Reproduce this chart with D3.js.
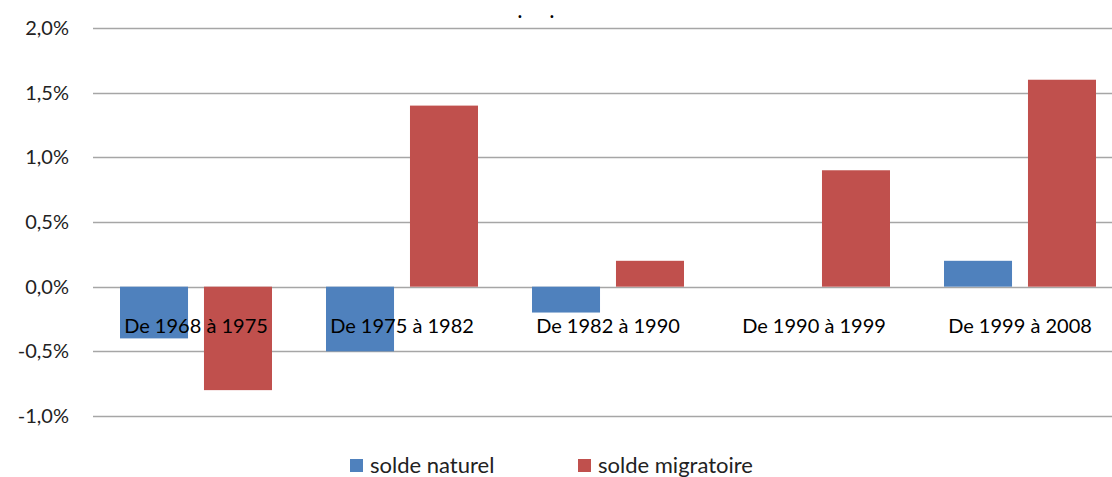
<!DOCTYPE html>
<html><head><meta charset="utf-8">
<script src="https://cdn.jsdelivr.net/npm/d3@7"></script>
<style>body{margin:0;background:#fff;}svg{display:block;}</style>
</head><body>
<script>
const categories = ["De 1968 à 1975","De 1975 à 1982","De 1982 à 1990","De 1990 à 1999","De 1999 à 2008"];
const seriesNames = ["solde naturel","solde migratoire"];
const soldeNaturel = [-0.4,-0.5,-0.2,0.0,0.2];
const soldeMigratoire = [-0.8,1.4,0.2,0.9,1.6];
const yTicks = [-1.0,-0.5,0,0.5,1.0,1.5,2.0];
const colors = ["#4F81BD","#C0504D"];

const W=1112,H=477;
const svg=d3.select("body").append("svg").attr("width",W).attr("height",H);
const font="Lato, 'Open Sans', sans-serif";
const x0=93, x1=1123;
const y=d3.scaleLinear().domain([-1,2]).range([416,28]);
const x=d3.scaleBand().domain(categories).range([x0,x1]).paddingInner(0).paddingOuter(0);
const xs=d3.scaleBand().domain(seriesNames).range([27,x.bandwidth()-27]).paddingInner(0.19);

const yAxis=d3.axisLeft(y).tickValues(yTicks).tickSize(0).tickPadding(24)
  .tickFormat(d=>d3.format(".1f")(d).replace(".",",").replace("−","-")+"%");
const ga=svg.append("g").attr("transform",`translate(${x0},0)`).call(yAxis);
ga.select(".domain").remove();
ga.selectAll("text").attr("font-family",font).attr("font-size",20).attr("fill","#222");
svg.append("g").selectAll("line").data(yTicks).join("line")
  .attr("x1",x0).attr("x2",W).attr("y1",d=>Math.round(y(d))+0.5).attr("y2",d=>Math.round(y(d))+0.5)
  .attr("stroke","#a6a6a6").attr("stroke-width",1.5);

const series=[soldeNaturel,soldeMigratoire];
series.forEach((vals,si)=>{
  svg.append("g").selectAll("rect").data(vals).join("rect")
    .attr("x",(d,i)=>x(categories[i])+xs(seriesNames[si]))
    .attr("width",xs.bandwidth())
    .attr("y",d=>y(Math.max(0,d)))
    .attr("height",d=>Math.abs(y(d)-y(0)))
    .attr("fill",colors[si]);
});

svg.append("g").selectAll("text").data(categories).join("text")
  .attr("x",d=>x(d)+x.bandwidth()/2).attr("y",333)
  .attr("text-anchor","middle").attr("font-family",font).attr("font-size",20)
  .attr("fill","#000").text(d=>d);

svg.append("g").selectAll("text").data([520,552]).join("text")
  .attr("x",d=>d).attr("y",18).attr("text-anchor","middle")
  .attr("font-family",font).attr("font-size",18).attr("font-weight","bold").attr("fill","#000").text(".");

const legX=[350,578];
const lg=svg.append("g").selectAll("g").data(seriesNames).join("g")
  .attr("transform",(d,i)=>`translate(${legX[i]},0)`);
lg.append("rect").attr("x",0).attr("y",459).attr("width",13).attr("height",13).attr("fill",(d,i)=>colors[i]);
lg.append("text").attr("x",20).attr("y",473).attr("font-family",font).attr("font-size",22).attr("fill","#222").text(d=>d);
</script>
</body></html>
